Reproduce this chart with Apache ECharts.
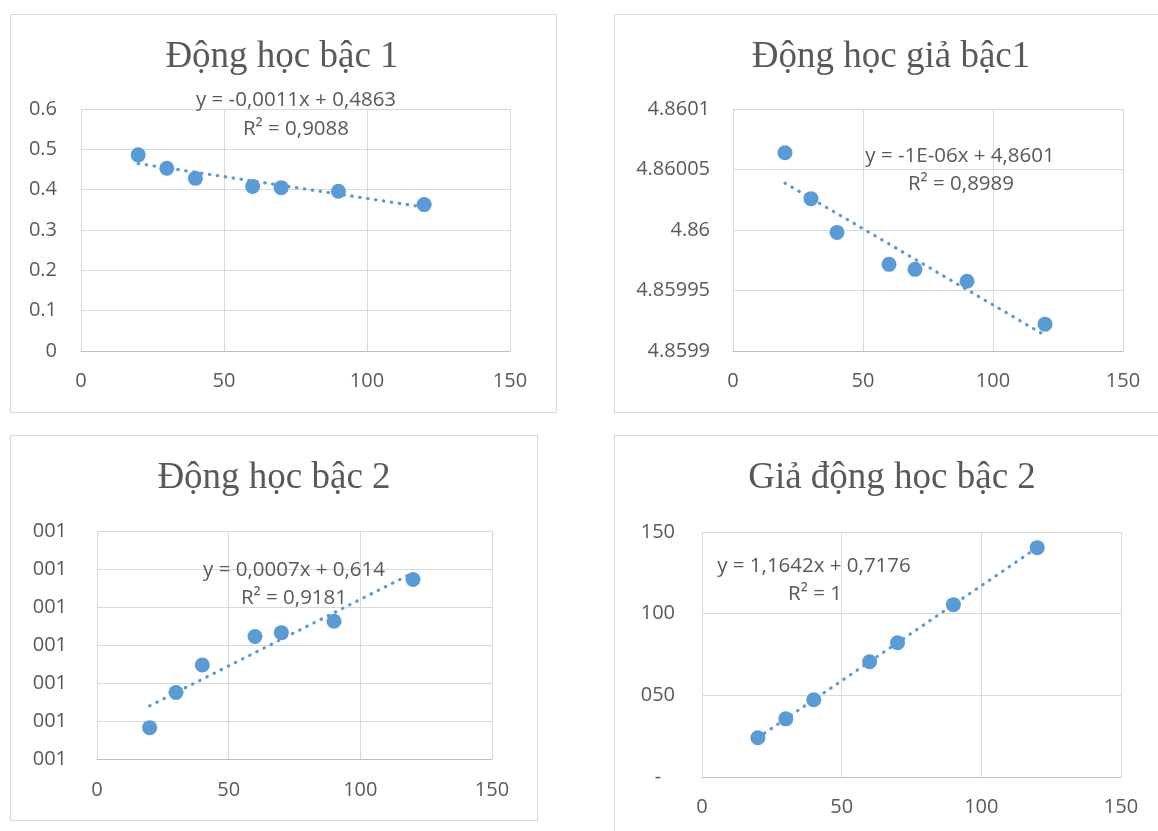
<!DOCTYPE html>
<html>
<head>
<meta charset="utf-8">
<title>Động học hấp phụ</title>
<script src="https://cdn.jsdelivr.net/npm/echarts@6/dist/echarts.min.js"></script>
<style>
  html, body { margin: 0; padding: 0; background: #ffffff; }
  #main { width: 1158px; height: 831px; }
</style>
</head>
<body>
<div id="main"></div>
<script>
// Contact time (min), shared by the four kinetic plots
const thoiGian = [20, 30, 40, 60, 70, 90, 120];

// Measured values for each kinetic model
const bac1    = [0.4863, 0.453, 0.428, 0.408, 0.405, 0.396, 0.363];
const giaBac1 = [4.8600638, 4.8600259, 4.8599980, 4.8599716, 4.8599675, 4.8599576, 4.8599222];
const bac2    = [0.6165, 0.635, 0.6495, 0.6645, 0.6665, 0.6725, 0.6945];
const giaBac2 = [24.0216, 35.6036, 47.3056, 70.5896, 82.1816, 105.5056, 140.4216];

// Axis ticks
const xTicks      = [0, 50, 100, 150];
const yTicksBac1  = [0, 0.1, 0.2, 0.3, 0.4, 0.5, 0.6];
const yTicksGia1  = [4.8599, 4.85995, 4.86, 4.86005, 4.8601];
const yTicksBac2  = [0.6, 0.62, 0.64, 0.66, 0.68, 0.70, 0.72];
const yTicksGia2  = [0, 50, 100, 150];

// Chart titles and trendline labels
const tieuDe = ['Động học bậc 1', 'Động học giả bậc1', 'Động học bậc 2', 'Giả động học bậc 2'];
const phuongTrinh = [
  ['y = -0,0011x + 0,4863', 'R² = 0,9088'],
  ['y = -1E-06x + 4,8601', 'R² = 0,8989'],
  ['y = 0,0007x + 0,614', 'R² = 0,9181'],
  ['y = 1,1642x + 0,7176', 'R² = 1']
];

const seriesData = [bac1, giaBac1, bac2, giaBac2];
const yTickSets = [yTicksBac1, yTicksGia1, yTicksBac2, yTicksGia2];

// Number formats of the vertical axes
const pad3 = v => String(Math.round(v)).padStart(3, '0');
const yFormatters = [
  v => String(+v.toFixed(6)),
  v => String(+v.toFixed(6)),
  v => pad3(v),
  v => (Math.abs(v) < 1e-9 ? '-  \u2009' : pad3(v))
];

// Panel layout (pixels)
const layout = [
  { frame: [10.5, 14.5, 546, 398], grid: [81, 109, 429, 242], title: [282, 57], eq: [[296, 100], [296, 129]], yMargin: 24, xMargin: 20 },
  { frame: [614.5, 14.5, 600, 398], grid: [733, 109, 390, 242], title: [891, 57], eq: [[960, 156], [961, 184]], yMargin: 23, xMargin: 20 },
  { frame: [10.5, 435.5, 527, 385], grid: [97, 531, 395, 228], title: [274, 478], eq: [[294, 570], [294, 598]], yMargin: 30, xMargin: 21 },
  { frame: [614.5, 435.5, 600, 420], grid: [702, 532, 419, 245], title: [892, 478], eq: [[814, 566], [815, 594]], yMargin: 27, xMargin: 20 }
];

// Least-squares straight line through a data set
function linearFit(xs, ys) {
  const n = xs.length;
  const mx = xs.reduce((a, b) => a + b, 0) / n;
  const my = ys.reduce((a, b) => a + b, 0) / n;
  let sxy = 0, sxx = 0;
  for (let i = 0; i < n; i++) {
    sxy += (xs[i] - mx) * (ys[i] - my);
    sxx += (xs[i] - mx) * (xs[i] - mx);
  }
  const slope = sxy / sxx;
  return { slope, intercept: my - slope * mx };
}

const TEXT = '#595959';
const GRID_LINE = '#d9d9d9';
const BLUE = '#5b9bd5';
const AXIS_FONT = '"Open Sans", "Noto Sans", sans-serif';

const grids = [], xAxes = [], yAxes = [], series = [], graphics = [];

layout.forEach((p, i) => {
  const [gl, gt, gw, gh] = p.grid;
  grids.push({ left: gl, top: gt, width: gw, height: gh, containLabel: false });

  xAxes.push({
    gridIndex: i, type: 'value',
    min: xTicks[0], max: xTicks[xTicks.length - 1], interval: xTicks[1] - xTicks[0],
    axisLine: { show: true, lineStyle: { color: '#bfbfbf', width: 1 } },
    axisTick: { show: false },
    axisLabel: { color: TEXT, fontSize: 20, fontFamily: AXIS_FONT, margin: p.xMargin },
    splitLine: { show: true, lineStyle: { color: GRID_LINE, width: 1 } }
  });

  const yt = yTickSets[i];
  yAxes.push({
    gridIndex: i, type: 'value',
    min: yt[0], max: yt[yt.length - 1], interval: +(yt[1] - yt[0]).toPrecision(6),
    axisLine: { show: false },
    axisTick: { show: false },
    axisLabel: { color: TEXT, fontSize: 20, fontFamily: AXIS_FONT, margin: p.yMargin, formatter: yFormatters[i] },
    splitLine: { show: true, lineStyle: { color: GRID_LINE, width: 1 } }
  });

  const ys = seriesData[i];
  series.push({
    type: 'scatter', xAxisIndex: i, yAxisIndex: i,
    symbol: 'circle', symbolSize: 15,
    itemStyle: { color: BLUE, opacity: 1 },
    data: thoiGian.map((x, k) => [x, ys[k]]),
    z: 3
  });

  const fit = linearFit(thoiGian, ys);
  const x0 = Math.min(...thoiGian), x1 = Math.max(...thoiGian);
  series.push({
    type: 'line', xAxisIndex: i, yAxisIndex: i,
    symbol: 'none', silent: true,
    lineStyle: { color: BLUE, width: 3.2, type: [0.5, 7.5], cap: 'round' },
    data: [[x0, fit.intercept + fit.slope * x0], [x1, fit.intercept + fit.slope * x1]],
    z: 4
  });

  const [fx, fy, fw, fh] = p.frame;
  graphics.push({
    type: 'rect', silent: true, z: 0,
    shape: { x: fx, y: fy, width: fw, height: fh },
    style: { fill: 'none', stroke: GRID_LINE, lineWidth: 1 }
  });
  graphics.push({
    type: 'text', silent: true, z: 10,
    x: p.title[0], y: p.title[1],
    style: {
      text: tieuDe[i], fill: TEXT,
      font: '37px "Liberation Serif", "Times New Roman", serif',
      align: 'center', verticalAlign: 'middle'
    }
  });
  phuongTrinh[i].forEach((line, k) => {
    graphics.push({
      type: 'text', silent: true, z: 10,
      x: p.eq[k][0], y: p.eq[k][1],
      style: {
        text: line, fill: TEXT,
        font: '20.5px ' + AXIS_FONT,
        align: 'center', verticalAlign: 'middle'
      }
    });
  });
});

const chart = echarts.init(document.getElementById('main'), null, { renderer: 'canvas' });
chart.setOption({
  backgroundColor: '#ffffff',
  animation: false,
  grid: grids,
  xAxis: xAxes,
  yAxis: yAxes,
  series: series,
  graphic: { elements: graphics }
});
</script>
</body>
</html>
